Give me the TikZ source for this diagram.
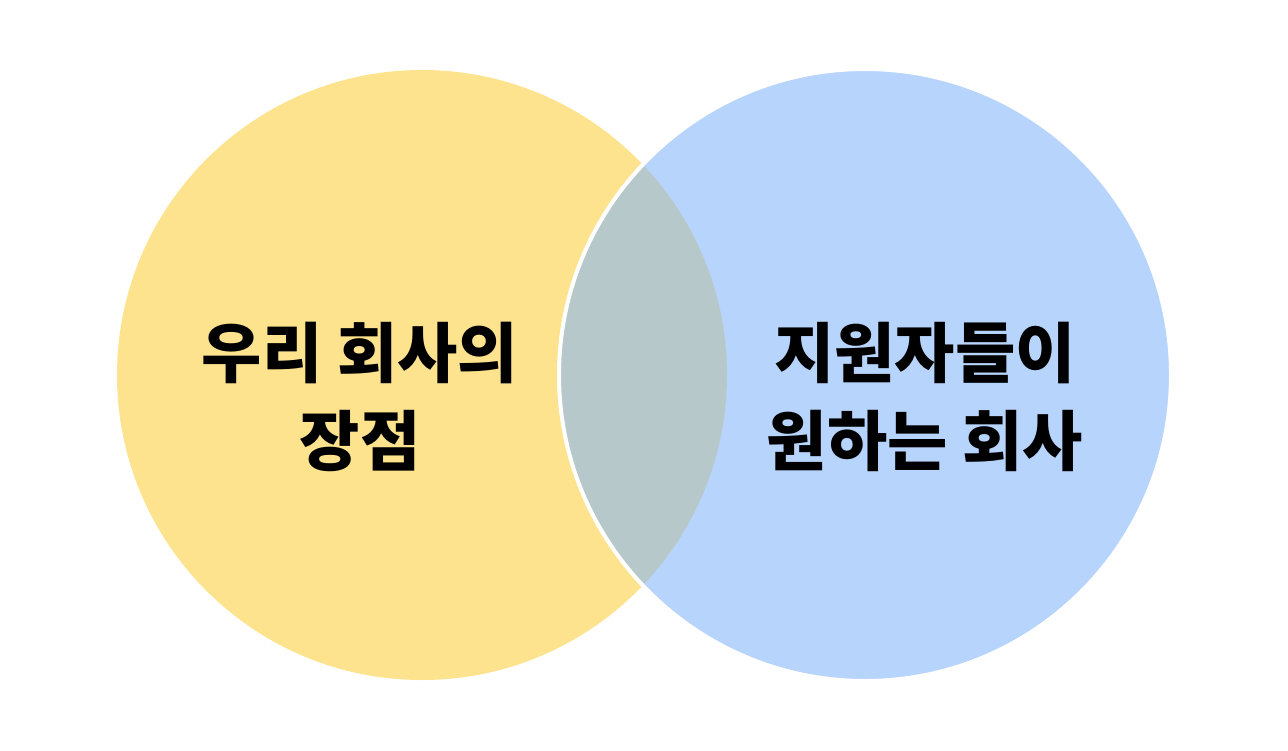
\documentclass[tikz,border=0pt]{standalone}
\usepackage{fontspec}
\newfontfamily\krfont{Noto Sans CJK KR}
\definecolor{strengthyellow}{HTML}{FDE38E}
\definecolor{wishblue}{HTML}{B7D4FD}
\definecolor{overlapgray}{HTML}{B7C8CB}
\tikzset{
  venntext/.style={align=center,text=black,font=\krfont\bfseries\fontsize{65.5}{88}\selectfont}
}
\begin{document}
\begin{tikzpicture}[x=1pt,y=-1pt]
    \useasboundingbox (0,0) rectangle (1288,750);

    % Left circle (our strengths)
    \fill[strengthyellow] (422,375) circle (305pt);
    % Right circle (what applicants want)
    \fill[wishblue] (865,375) circle (306pt);

    % Overlap
    \begin{scope}
      \clip (865,375) circle (306pt);
      \fill[overlapgray] (422,375) circle (305pt);
    \end{scope}
    \draw[white,line width=4pt] (865,375) circle (306pt);

    % Labels
    \node[venntext] (strength) at (360,397) {우리 회사의\\장점};
    \node[venntext] (wish) at (925,397) {지원자들이\\원하는 회사};
  \end{tikzpicture}
\end{document}
